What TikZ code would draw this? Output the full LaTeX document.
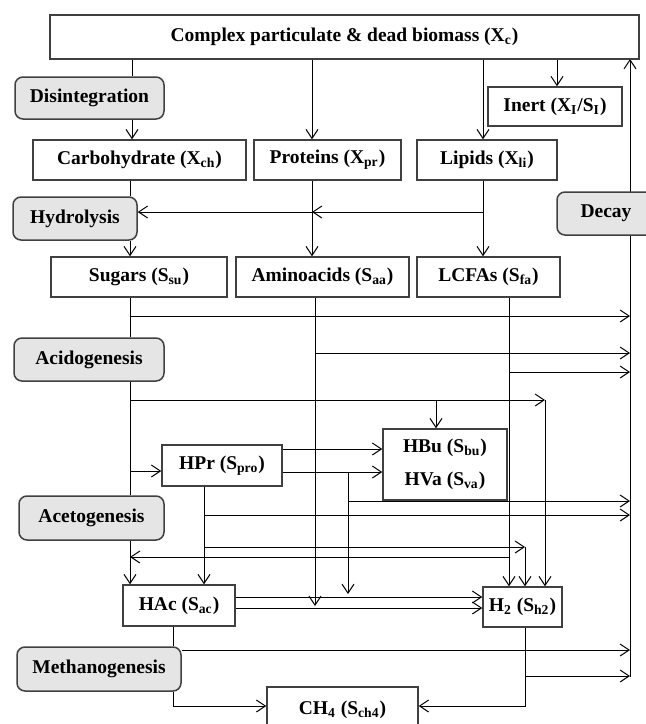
\documentclass[tikz,border=0pt]{standalone}
\usepackage{fontspec}
\setmainfont{Liberation Serif}
\usetikzlibrary{arrows.meta, positioning}
\newcommand{\vr}[2]{#1\textsubscript{#2}}
\tikzstyle{compartment} = [draw=black!75, line width=0.75pt, fill=white, rectangle, inner sep=0pt, minimum height=20pt, font=\fontsize{9.75}{12}\selectfont\bfseries]
\tikzstyle{process} = [compartment, fill=black!10, rounded corners=4pt, minimum height=21.5pt]
\tikzstyle{flow} = [-{Straight Barb[length=4.5pt,width=6pt]}, line width=0.5pt]
\tikzstyle{link} = [line width=0.5pt]

\begin{document}
\begin{tikzpicture}[x=0.5pt, y=-0.5pt]
	\useasboundingbox (0,0) rectangle (645,724);
	\coordinate (bus) at (630,0);
	\coordinate (hj) at (312,212);
	\draw[flow] (bus |- 0,677) -- (bus |- 0,59);

	\node[compartment, minimum width=294.5pt, minimum height=22pt] (xc) at (344.5,37) {Complex particulate \& dead biomass (\vr{X}{c})};
	\node[process, minimum width=74.5pt, minimum height=21pt] (dis) at (89.5,98) {Disintegration};
	\node[compartment, minimum width=106.5pt] (xch) at (139.5,160) {Carbohydrate (\vr{X}{ch})};
	\node[compartment, minimum width=73.5pt] (xpr) at (327.5,160) {Proteins (\vr{X}{pr})};
	\node[compartment, minimum width=70pt] (xli) at (487,160) {Lipids (\vr{X}{li})};
	\node[compartment, minimum width=67pt, minimum height=19.5pt] (inert) at (555,106.5) {Inert (\vr{X}{I}/\vr{S}{I})};
	\node[process, minimum width=62pt] (hyd) at (75,218.5) {Hydrolysis};
	\node[process, minimum width=49pt] (decay) at (606,213.5) {Decay};
	\node[compartment, minimum width=88pt] (ssu) at (139,277) {Sugars (\vr{S}{su})};
	\node[compartment, minimum width=86.5pt] (saa) at (322.5,277) {Aminoacids (\vr{S}{aa})};
	\node[compartment, minimum width=71.5pt] (sfa) at (488.5,277) {LCFAs (\vr{S}{fa})};
	\node[process, minimum width=75pt] (acid) at (89,359.5) {Acidogenesis};
	\node[compartment, minimum width=60pt, minimum height=20.5pt] (hpr) at (222,465.5) {HPr (\vr{S}{pro})};
	\node[compartment, minimum width=62pt, minimum height=35.5pt, align=center] (hbu) at (445,464.5) {HBu (\vr{S}{bu})\\[4.5pt]HVa (\vr{S}{va})};
	\node[process, minimum width=72.5pt, minimum height=22pt] (acet) at (91.5,518) {Acetogenesis};
	\node[compartment, minimum width=56pt, minimum height=20.5pt] (hac) at (179,605.5) {HAc (\vr{S}{ac})};
	\node[compartment, minimum width=39.5pt] (sh2) at (522.5,607) {H\textsubscript{2} (\vr{S}{h2})};
	\node[process, minimum width=82pt, minimum height=22pt] (meth) at (99,669) {Methanogenesis};
	\node[compartment, minimum width=75.5pt, minimum height=23pt] (ch4) at (342.5,710) {CH\textsubscript{4} (\vr{S}{ch4})};

	\draw[link] (xc.south -| 132,0) -- (dis.north -| 132,0);
	\draw[flow] (dis.south -| 132,0) -- (xch.north -| 132,0);
	\draw[flow] (xc.south -| 312,0) -- (xpr.north -| 312,0);
	\draw[flow] (xc.south -| 483,0) -- (xli.north -| 483,0);
	\draw[flow] (xc.south -| 557,0) -- (inert.north -| 557,0);

	\draw[link] (xch.south -| 130,0) -- (hyd.north -| 130,0);
	\draw[flow] (xpr.south -| 312,0) -- (saa.north -| 312,0);
	\draw[flow] (xli.south -| 483,0) -- (sfa.north -| 483,0);
	\draw[flow] (hj -| 483,0) -- (hj);
	\draw[flow] (hj) -- (hyd.east |- hj);
	\draw[flow] (hyd.south -| 130,0) -- (ssu.north -| 130,0);

	\draw[link] (ssu.south -| 130,0) -- (acid.north -| 130,0);
	\draw[flow] (130,316) -- (bus |- 0,316);
	\draw[flow] (saa.south -| 315,0) -- (315,606);
	\draw[flow] (315,353) -- (bus |- 0,353);
	\draw[flow] (sfa.south -| 509,0) -- (sh2.north -| 509,0);
	\draw[flow] (509,372) -- (bus |- 0,372);
	\draw[flow] (509,557) -- (130,557);

	\draw[link] (acid.south -| 130,0) -- (acet.north -| 130,0);
	\draw[flow] (130,400) -- (545,400);
	\draw[flow] (545,400) -- (sh2.north -| 545,0);
	\draw[flow] (436,400) -- (hbu.north -| 436,0);
	\draw[flow] (130,471) -- (hpr.west |- 0,471);

	\draw[flow] (hpr.east |- 0,449) -- (hbu.west |- 0,449);
	\draw[flow] (hpr.east |- 0,472) -- (hbu.west |- 0,472);
	\draw[flow] (348,472) -- (348,594);
	\draw[flow] (348,501) -- (bus |- 0,501);
	\draw[flow] (hpr.south -| 204,0) -- (hac.north -| 204,0);
	\draw[flow] (204,515) -- (bus |- 0,515);
	\draw[flow] (204,547) -- (525,547);
	\draw[flow] (525,547) -- (sh2.north -| 525,0);

	\draw[flow] (acet.south -| 130,0) -- (hac.north -| 130,0);
	\draw[flow] (hac.east |- 0,597) -- (sh2.west |- 0,597);
	\draw[flow] (hac.east |- 0,608) -- (sh2.west |- 0,608);
	\draw[link] (hac.south -| 173,0) -- (meth.north -| 173,0);
	\draw[flow] (meth.east |- 0,650) -- (bus |- 0,650);
	\draw[flow] (meth.south -| 173,0) |- (ch4.west |- 0,706);
	\draw[flow] (sh2.south -| 525,0) |- (ch4.east |- 0,706);
	\draw[flow] (525,676) -- (bus |- 0,676);
\end{tikzpicture}
\end{document}
